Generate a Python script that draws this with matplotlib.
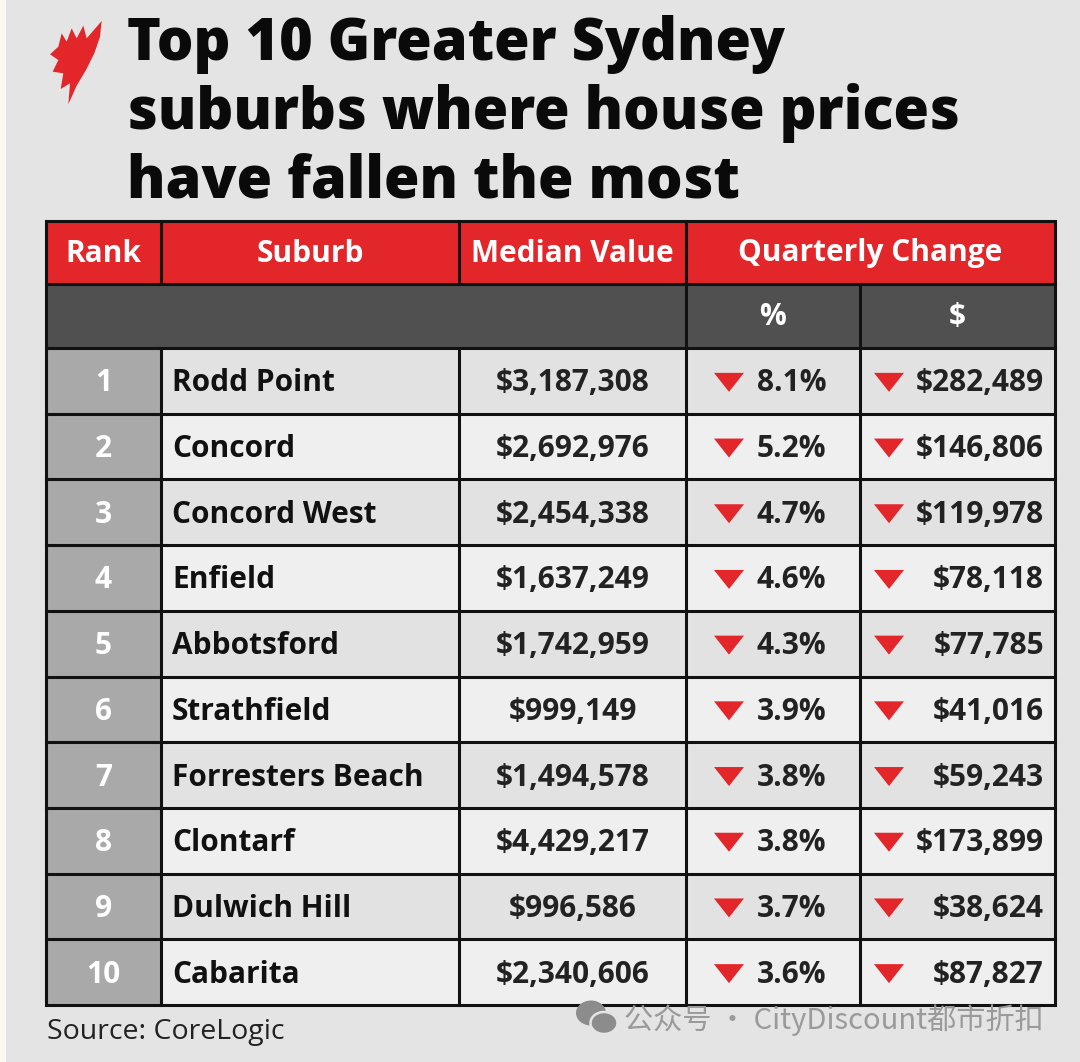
import matplotlib
matplotlib.use("Agg")
import matplotlib.pyplot as plt
from matplotlib.patches import Rectangle, Polygon, Ellipse

# ----------------------------------------------------------------------------------------------------------------------
# Data
# ----------------------------------------------------------------------------------------------------------------------
title_lines = ["Top 10 Greater Sydney", "suburbs where house prices", "have fallen the most"]
header = ["Rank", "Suburb", "Median Value", "Quarterly Change"]
sub_header = ["%", "$"]
ranks = [1, 2, 3, 4, 5, 6, 7, 8, 9, 10]
suburbs = ["Rodd Point", "Concord", "Concord West", "Enfield", "Abbotsford",
           "Strathfield", "Forresters Beach", "Clontarf", "Dulwich Hill", "Cabarita"]
median_values = [3187308, 2692976, 2454338, 1637249, 1742959, 999149, 1494578, 4429217, 996586, 2340606]
pct_change = [8.1, 5.2, 4.7, 4.6, 4.3, 3.9, 3.8, 3.8, 3.7, 3.6]
dollar_change = [282489, 146806, 119978, 78118, 77785, 41016, 59243, 173899, 38624, 87827]
source = "Source: CoreLogic"
watermark = "公众号 · CityDiscount都市折扣"

# ----------------------------------------------------------------------------------------------------------------------
# Layout (pixels)
# ----------------------------------------------------------------------------------------------------------------------
W, H = 1080, 1062
col_x = [46, 161, 459, 686, 860, 1055]
head_top, head_bot, sub_bot = 221, 284, 348
row_h = (1005 - sub_bot) / len(ranks)

RED = "#e3262a"
DARK = "#505050"
RANKGRAY = "#a9a9a9"
BG = "#e4e4e4"
FONT = "Open Sans"
FS = 21.5

fig = plt.figure(figsize=(W / 100, H / 100), dpi=100)
fig.patch.set_facecolor(BG)
ax = fig.add_axes([0, 0, 1, 1])
ax.set_xlim(0, W)
ax.set_ylim(H, 0)
ax.axis("off")

# off-white left strip
ax.add_patch(Rectangle((0, 0), 6, H, facecolor="#fbf8f2", edgecolor="none"))

# logo (outline traced at 3x, then scaled back)
logo_z = [(185, 18), (180, 65), (163, 115), (138, 165), (110, 212), (85, 268), (90, 205), (62, 222),
          (70, 175), (38, 170), (55, 135), (30, 118), (55, 95), (65, 55), (80, 80), (95, 40),
          (110, 70), (130, 32), (140, 70)]
logo = [(40 + zx / 3, 15 + zy / 3) for zx, zy in logo_z]
ax.add_patch(Polygon(logo, closed=True, facecolor=RED, edgecolor="none"))

# title
for i, line in enumerate(title_lines):
    ax.text(127, 44 + i * 69, line, fontsize=41.5, fontweight="heavy", family=FONT,
            color="#0a0a0a", ha="left", va="center")

lw = 2.2
# header row
ax.add_patch(Rectangle((col_x[0], head_top), col_x[-1] - col_x[0], head_bot - head_top,
                       facecolor=RED, edgecolor="none"))
hcenters = [(col_x[0] + col_x[1]) / 2, (col_x[1] + col_x[2]) / 2,
            (col_x[2] + col_x[3]) / 2, (col_x[3] + col_x[5]) / 2]
for cx, lab in zip(hcenters, header):
    ax.text(cx, (head_top + head_bot) / 2 + 1, lab, fontsize=FS, fontweight="bold", family=FONT,
            color="white", ha="center", va="center")

# sub header
ax.add_patch(Rectangle((col_x[0], head_bot), col_x[-1] - col_x[0], sub_bot - head_bot,
                       facecolor=DARK, edgecolor="none"))
for k, lab in enumerate(sub_header):
    ax.text((col_x[3 + k] + col_x[4 + k]) / 2, (head_bot + sub_bot) / 2 + 1, lab, fontsize=FS,
            fontweight="bold", family=FONT, color="white", ha="center", va="center")

# data rows
for i in range(len(ranks)):
    y0 = sub_bot + i * row_h
    yc = y0 + row_h / 2
    ty = yc + 2.5
    fill = "#e2e2e2" if i % 2 == 0 else "#efefef"
    ax.add_patch(Rectangle((col_x[1], y0), col_x[-1] - col_x[1], row_h, facecolor=fill, edgecolor="none"))
    ax.add_patch(Rectangle((col_x[0], y0), col_x[1] - col_x[0], row_h, facecolor=RANKGRAY, edgecolor="none"))
    ax.text((col_x[0] + col_x[1]) / 2, ty, str(ranks[i]), fontsize=FS, fontweight="bold", family=FONT,
            color="white", ha="center", va="center")
    ax.text(col_x[1] + 11, ty, suburbs[i], fontsize=FS, fontweight="bold", family=FONT,
            color="#111111", ha="left", va="center")
    ax.text((col_x[2] + col_x[3]) / 2, ty, f"${median_values[i]:,}", fontsize=FS, fontweight="bold",
            family=FONT, color="#222222", ha="center", va="center")
    # triangles
    for tx in (729, 889):
        ax.add_patch(Polygon([(tx - 15, yc - 8), (tx + 15, yc - 8), (tx, yc + 11)], closed=True,
                             facecolor=RED, edgecolor="none"))
    ax.text(826, ty, f"{pct_change[i]}%", fontsize=FS, fontweight="bold", family=FONT,
            color="#222222", ha="right", va="center")
    ax.text(1044, ty, f"${dollar_change[i]:,}", fontsize=FS, fontweight="bold", family=FONT,
            color="#222222", ha="right", va="center")

# grid lines
ax.add_patch(Rectangle((col_x[0], head_top), col_x[-1] - col_x[0], 1005 - head_top,
                       facecolor="none", edgecolor="#111111", linewidth=lw))
for yy in [head_bot, sub_bot] + [sub_bot + i * row_h for i in range(1, len(ranks))]:
    ax.plot([col_x[0], col_x[-1]], [yy, yy], color="#111111", linewidth=lw)
for xx in col_x[1:-1]:
    if xx in (col_x[1], col_x[2]):
        ax.plot([xx, xx], [head_top, head_bot], color="#111111", linewidth=lw)
        ax.plot([xx, xx], [sub_bot, 1005], color="#111111", linewidth=lw)
    elif xx == col_x[3]:
        ax.plot([xx, xx], [head_top, 1005], color="#111111", linewidth=lw)
    else:
        ax.plot([xx, xx], [head_bot, 1005], color="#111111", linewidth=lw)

# source
ax.text(47, 1032, source, fontsize=20.5, family=FONT, color="#222222", ha="left", va="center")

# watermark
ax.add_patch(Ellipse((591, 1013), 30, 25, facecolor="#8c8c8c", edgecolor="none"))
ax.add_patch(Ellipse((604, 1023), 27, 22, facecolor="#8c8c8c", edgecolor=BG, linewidth=1.8))
ax.text(624, 1020, watermark, fontsize=21, family=["Noto Sans CJK SC", "DejaVu Sans"],
        color="#9a9a9a", ha="left", va="center")

fig.savefig("out.png", dpi=100, facecolor=BG)
